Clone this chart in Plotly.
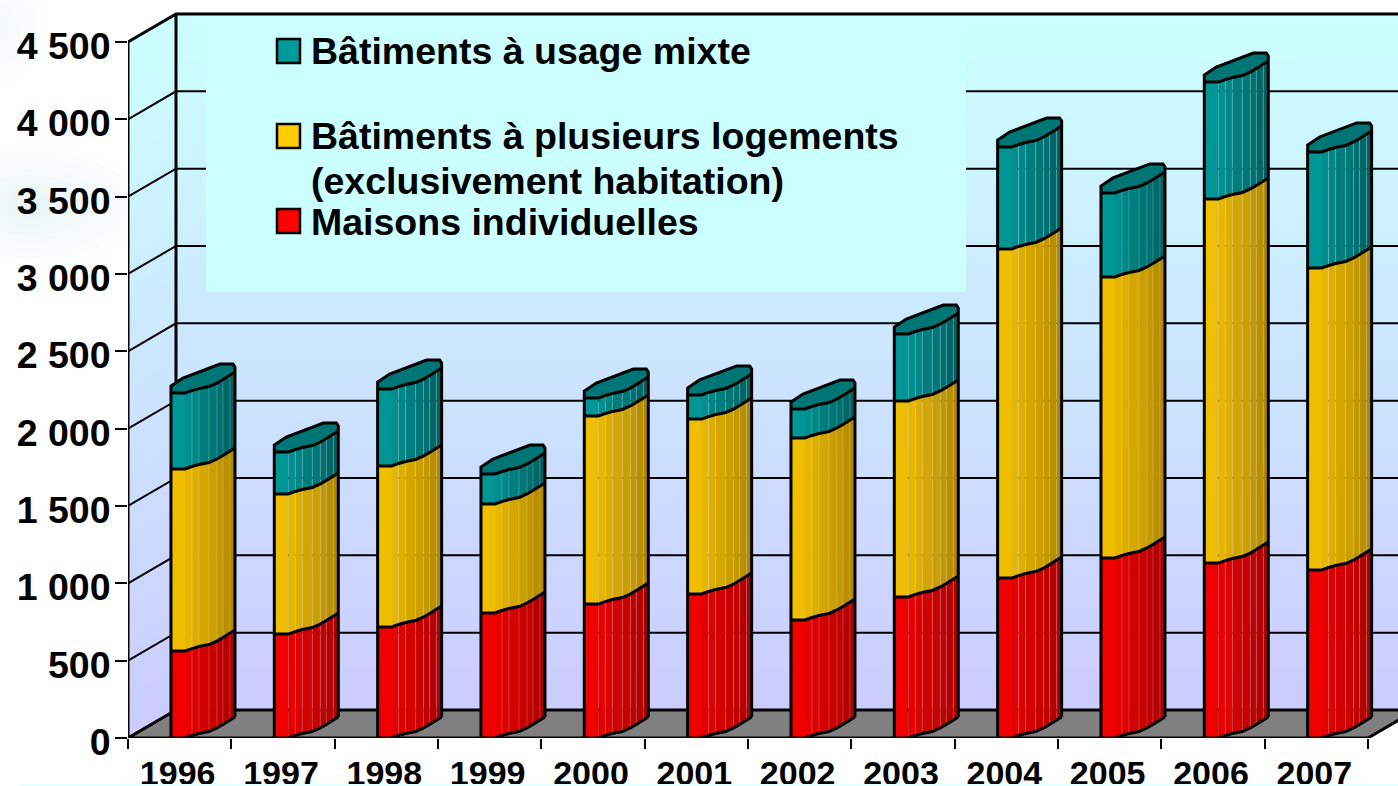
"""Logements autorisés par type de bâtiment, 1996-2007 (faux 3D)."""

import plotly.graph_objects as go

years = ["1996", "1997", "1998", "1999", "2000", "2001",
         "2002", "2003", "2004", "2005", "2006", "2007"]
maisons = [562, 672, 718, 808, 866, 931, 763, 912, 1034, 1164, 1131, 1086]
plusieurs = [1177, 906, 1041, 705, 1216, 1131, 1177, 1267, 2128, 1817, 2354, 1953]
mixte = [491, 271, 497, 194, 116, 156, 187, 433, 659, 543, 756, 750]

y_ticks = [0, 500, 1000, 1500, 2000, 2500, 3000, 3500, 4000, 4500]
y_labels = ["0", "500", "1 000", "1 500", "2 000", "2 500",
            "3 000", "3 500", "4 000", "4 500"]

# name, facet colour at the left, facet colour at the right, colour of the cap
series = [
    ("Maisons individuelles", maisons, (240, 0, 0), (172, 0, 0), None),
    ("Bâtiments à plusieurs logements", plusieurs, (240, 190, 0), (176, 136, 0), None),
    ("Bâtiments à usage mixte", mixte, (0, 150, 150), (0, 96, 96), "#007575"),
]

# scale of the picture, pixels per data unit
W, H = 1398, 786
LEFT, BOTTOM = 128, 48
PX_X = 1240 / 12
PX_Y = 696 / 4500
DEPTH_X, DEPTH_Y = 48 / PX_X, 28 / PX_Y
X_MIN, X_MAX = -0.5, -0.5 + (W - LEFT) / PX_X
Y_MAX = (H - BOTTOM) / PX_Y

# outline of a column, pixels from its front left corner
BAR_START = -8.7
FRONT = [(0, 0), (14, 0), (21, -2.5), (28, -4.5), (38, -6.5),
         (46, -10), (52, -13.5), (59, -18), (64, -21)]
BACK = [(64, -26), (62, -29), (49, -29), (27, -21), (12, -15), (0, -7)]


def bx(i, px):
    return i + (BAR_START + px) / PX_X


def paper_x(px):
    return (px - LEFT) / (W - LEFT)


def paper_y(py):
    return (H - BOTTOM - py) / (H - BOTTOM)


def mix(a, b, t):
    return "rgb(%d,%d,%d)" % tuple(a[k] + (b[k] - a[k]) * t for k in range(3))


def poly(color, xs, ys):
    return go.Scatter(x=xs, y=ys, xaxis="x2", yaxis="y", mode="lines", fill="toself",
                      fillcolor=color, line=dict(width=0), hoverinfo="skip",
                      showlegend=False, cliponaxis=False)


def stroke(xs, ys, width=3, color="#000000"):
    return go.Scatter(x=xs, y=ys, xaxis="x2", yaxis="y", mode="lines",
                      line=dict(color=color, width=width), hoverinfo="skip",
                      showlegend=False, cliponaxis=False)


fig = go.Figure()

# front strip of each column is a plain stacked bar
for name, vals, left, right, cap in series:
    fig.add_trace(go.Bar(
        name=name, x=years, y=vals, width=14 / PX_X, offset=BAR_START / PX_X,
        marker=dict(color=mix(left, right, 0), line=dict(width=0)),
    ))

# rounded side of the columns, one trace per facet
totals = [[0.0] * len(years)]
for _, vals, _, _, _ in series:
    totals.append([a + b for a, b in zip(totals[-1], vals)])

for s, (name, vals, left, right, cap) in enumerate(series):
    for f in range(1, len(FRONT) - 1):
        xs, ys = [], []
        (x0, y0), (x1, y1) = FRONT[f], FRONT[f + 1]
        for i in range(len(years)):
            lo, hi = totals[s][i], totals[s + 1][i]
            xs += [bx(i, x0), bx(i, x1), bx(i, x1), bx(i, x0), bx(i, x0), None]
            ys += [lo - y0 / PX_Y, lo - y1 / PX_Y, hi - y1 / PX_Y, hi - y0 / PX_Y,
                   lo - y0 / PX_Y, None]
        fig.add_trace(poly(mix(left, right, f / (len(FRONT) - 2)), xs, ys))

    # thin lighter seams between the facets
    xs, ys = [], []
    for f in range(2, len(FRONT) - 1):
        x0, y0 = FRONT[f]
        for i in range(len(years)):
            xs += [bx(i, x0), bx(i, x0), None]
            ys += [totals[s][i] - y0 / PX_Y, totals[s + 1][i] - y0 / PX_Y, None]
    fig.add_trace(stroke(xs, ys, width=1, color="rgba(255,255,255,0.2)"))

# caps and black outlines
top = totals[-1]
cap_x, cap_y = [], []
for i in range(len(years)):
    for px, py in FRONT + BACK + FRONT[:1]:
        cap_x.append(bx(i, px))
        cap_y.append(top[i] - py / PX_Y)
    cap_x.append(None)
    cap_y.append(None)
fig.add_trace(poly(series[-1][4], cap_x, cap_y))

edge_x, edge_y = [], []
for i in range(len(years)):
    # silhouette
    edge_x += [bx(i, 0), bx(i, 0)]
    edge_y += [0, top[i]]
    for px, py in BACK[::-1]:
        edge_x.append(bx(i, px))
        edge_y.append(top[i] - py / PX_Y)
    edge_x += [bx(i, 64), None]
    edge_y += [0 - FRONT[-1][1] / PX_Y, None]
    # lower edge of each block
    for level in (0, totals[1][i], totals[2][i], top[i]):
        for px, py in FRONT:
            edge_x.append(bx(i, px))
            edge_y.append(level - py / PX_Y)
        edge_x.append(None)
        edge_y.append(None)
fig.add_trace(stroke(edge_x, edge_y))

shapes = []

# faint smudges of the slide background behind the left labels
for cx, cy, rx, ry, n in [(30, 205, 120, 60, 10), (0, 25, 45, 60, 6)]:
    for k in range(n):
        f = 1 - k / n
        shapes.append(dict(type="circle", xref="paper", yref="paper", layer="below",
                           x0=paper_x(cx - rx * f), x1=paper_x(cx + rx * f),
                           y0=paper_y(cy + ry * f), y1=paper_y(cy - ry * f),
                           fillcolor="rgba(175,205,200,0.02)", line=dict(width=0)))

# walls, floor and grid sit under everything else
wall_bands = 48
for b in range(wall_bands):
    v0 = 4500 * b / wall_bands
    v1 = 4500 * (b + 1) / wall_bands + 8
    t = b / (wall_bands - 1)
    color = "rgb(204,%d,255)" % round(204 + 51 * t)
    path = (f"M {X_MIN},{v0} L {X_MIN + DEPTH_X},{v0 + DEPTH_Y} L {X_MAX},{v0 + DEPTH_Y} "
            f"L {X_MAX},{v1 + DEPTH_Y} L {X_MIN + DEPTH_X},{v1 + DEPTH_Y} L {X_MIN},{v1} Z")
    shapes.append(dict(type="path", path=path, xref="x2", yref="y", layer="below",
                       fillcolor=color, line=dict(width=0)))

x_front_end = X_MIN + 12
shapes.append(dict(
    type="path", xref="x2", yref="y", layer="below", fillcolor="#808080",
    line=dict(color="#000000", width=3),
    path=(f"M {X_MIN},0 L {X_MIN + DEPTH_X},{DEPTH_Y} L {x_front_end + DEPTH_X},{DEPTH_Y} "
          f"L {x_front_end},0 Z"),
))
for v in y_ticks:
    shapes.append(dict(
        type="path", xref="x2", yref="y", layer="below",
        line=dict(color="#000000", width=3 if v == 4500 else 2),
        path=(f"M {X_MIN},{v} L {X_MIN + DEPTH_X},{v + DEPTH_Y} L {X_MAX},{v + DEPTH_Y}"),
    ))
for x_wall, lift in [(X_MIN + DEPTH_X, DEPTH_Y), (X_MIN, 0)]:
    shapes.append(dict(type="line", xref="x2", yref="y", layer="below",
                       x0=x_wall, x1=x_wall, y0=lift, y1=4500 + lift,
                       line=dict(color="#000000", width=3)))
# the legend panel hides the upper grid lines
shapes.append(dict(type="rect", xref="x2", yref="y", layer="below",
                   x0=X_MIN + (206 - LEFT) / PX_X, x1=X_MIN + (966 - LEFT) / PX_X,
                   y0=(H - BOTTOM - 292) / PX_Y, y1=(H - BOTTOM - 16) / PX_Y,
                   fillcolor="#CCFFFF", line=dict(width=0)))
# pale strip of the slide background along the bottom edge
shapes.append(dict(type="rect", xref="paper", yref="paper", layer="above",
                   x0=paper_x(20), x1=1, y0=paper_y(H), y1=paper_y(784),
                   fillcolor="#E6FFFF", line=dict(width=0)))

# legend drawn by hand, its rows are unevenly spaced
legend_rows = [
    ("Bâtiments à usage mixte", 51, 51, "#009999"),
    ("Bâtiments à plusieurs logements", 136, 136, "#FFCC00"),
    ("(exclusivement habitation)", 181, None, None),
    ("Maisons individuelles", 222, 221, "#FF0000"),
]
annotations = []
for label, text_y, box_y, color in legend_rows:
    annotations.append(dict(
        text=label, xref="paper", yref="paper", x=paper_x(312),
        y=paper_y(text_y), xanchor="left", yanchor="middle", xshift=-3,
        showarrow=False, font=dict(family="Liberation Sans", size=37.5, color="#000000", weight=700),
    ))
    if color:
        shapes.append(dict(type="rect", xref="paper", yref="paper", layer="above",
                           x0=paper_x(277), x1=paper_x(300),
                           y0=paper_y(box_y + 12), y1=paper_y(box_y - 12),
                           fillcolor=color, line=dict(color="#000000", width=2.5)))

fig.update_layout(
    width=W, height=H,
    autosize=False,
    margin=dict(l=LEFT, r=0, t=0, b=BOTTOM, pad=0, autoexpand=False),
    barmode="stack",
    showlegend=False,
    paper_bgcolor="#FFFFFF",
    plot_bgcolor="rgba(0,0,0,0)",
    shapes=shapes,
    annotations=annotations,
    font=dict(family="Liberation Sans", color="#000000"),
    xaxis=dict(
        type="category", categoryorder="array", categoryarray=years,
        range=[X_MIN, X_MAX], tickson="boundaries", automargin=False,
        ticks="outside", ticklen=10, tickwidth=2, tickcolor="#000000",
        showgrid=False, zeroline=False, showline=False,
        ticklabelstandoff=12, ticklabelshift=-2,
        tickfont=dict(family="Liberation Sans", size=34, color="#000000", weight=700),
    ),
    xaxis2=dict(overlaying="x", range=[X_MIN, X_MAX], visible=False),
    yaxis=dict(
        range=[0, Y_MAX], tickvals=y_ticks, ticktext=y_labels, automargin=False,
        ticks="outside", ticklen=12, tickwidth=2, tickcolor="#000000",
        showgrid=False, zeroline=False, showline=False,
        ticklabelshift=4, ticklabelstandoff=-3,
        tickfont=dict(family="Liberation Sans", size=37.5, color="#000000", weight=700),
    ),
)

# the page is photographed from its corner, drop the default body margin
fig.write_html(
    "out.html",
    config={"displayModeBar": False},
    post_script="document.body.style.margin='0';document.body.style.overflow='hidden';",
)
